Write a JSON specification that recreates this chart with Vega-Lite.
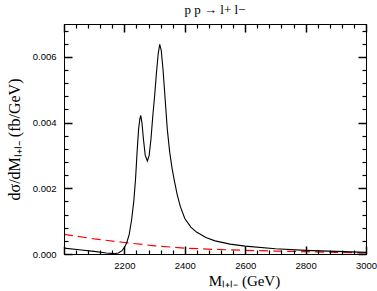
{
  "$schema": "https://vega.github.io/schema/vega-lite/v6.json",
  "width": 302,
  "height": 230,
  "autosize": {"type": "none"},
  "padding": {"left": 64, "top": 24, "right": 11, "bottom": 37},
  "config": {
    "view": {"stroke": "black", "strokeWidth": 1},
    "axis": {"labelColor": "black", "labelFont": "Liberation Sans", "labelFontSize": 9.5, "titleFont": "Liberation Serif", "titleFontWeight": "normal", "titleFontSize": 15, "titleColor": "black", "domainColor": "black", "gridOpacity": 0}
  },
  "title": {"text": "p p → l+ l−", "font": "Liberation Serif", "fontSize": 13, "fontWeight": "normal", "color": "black", "offset": 6},
  "datasets": {
    "total": [
      {"m": 2000, "v": 0.00018}, {"m": 2050, "v": 0.00013}, {"m": 2100, "v": 0.00008}, {"m": 2140, "v": 0.00003},
      {"m": 2165, "v": 0.00001}, {"m": 2180, "v": 0.00003}, {"m": 2192, "v": 0.0001}, {"m": 2200, "v": 0.0002},
      {"m": 2208, "v": 0.00035}, {"m": 2216, "v": 0.0006}, {"m": 2224, "v": 0.00105}, {"m": 2231, "v": 0.0016},
      {"m": 2237, "v": 0.0023}, {"m": 2242, "v": 0.0031}, {"m": 2247, "v": 0.0038}, {"m": 2251, "v": 0.0041},
      {"m": 2254, "v": 0.00422}, {"m": 2258, "v": 0.0040}, {"m": 2263, "v": 0.0035}, {"m": 2269, "v": 0.0030},
      {"m": 2276, "v": 0.00283}, {"m": 2282, "v": 0.0030}, {"m": 2288, "v": 0.0035}, {"m": 2294, "v": 0.0042},
      {"m": 2300, "v": 0.0048}, {"m": 2306, "v": 0.0055}, {"m": 2312, "v": 0.0061}, {"m": 2317, "v": 0.00638},
      {"m": 2322, "v": 0.0062}, {"m": 2328, "v": 0.0056}, {"m": 2335, "v": 0.0047}, {"m": 2342, "v": 0.0038},
      {"m": 2350, "v": 0.0031}, {"m": 2358, "v": 0.0026}, {"m": 2366, "v": 0.0022}, {"m": 2375, "v": 0.0018},
      {"m": 2385, "v": 0.00145}, {"m": 2400, "v": 0.00108}, {"m": 2420, "v": 0.00082}, {"m": 2440, "v": 0.00066},
      {"m": 2470, "v": 0.0005}, {"m": 2500, "v": 0.0004}, {"m": 2550, "v": 0.0003}, {"m": 2600, "v": 0.00024},
      {"m": 2700, "v": 0.00016}, {"m": 2800, "v": 0.00011}, {"m": 2900, "v": 0.00008}, {"m": 3000, "v": 0.00005}
    ],
    "bg": [
      {"m": 2000, "v": 0.0006}, {"m": 2100, "v": 0.00046}, {"m": 2200, "v": 0.00035}, {"m": 2300, "v": 0.00025},
      {"m": 2400, "v": 0.00018}, {"m": 2500, "v": 0.00014}, {"m": 2600, "v": 0.00011}, {"m": 2700, "v": 0.00009},
      {"m": 2800, "v": 0.00007}, {"m": 2900, "v": 0.00005}, {"m": 3000, "v": 0.00003}
    ]
  },
  "resolve": {"scale": {"x": "shared", "y": "shared"}, "axis": {"x": "independent", "y": "independent"}},
  "layer": [
    {
      "data": {"name": "bg"},
      "mark": {"type": "line", "color": "#ff0000", "strokeWidth": 1.2, "strokeDash": [9, 5]},
      "encoding": {
        "x": {"field": "m", "type": "quantitative", "scale": {"domain": [2000, 3000], "nice": false, "zero": false},
          "axis": {"orient": "bottom", "title": "Mₗ₊ₗ₋  (GeV)", "titlePadding": 4, "titleX": 180, "titleAlign": "center",
            "tickCount": 5, "labelExpr": "datum.value > 2000 ? datum.value : ''", "format": "d",
            "ticks": true, "tickColor": "black", "tickOpacity": 1, "tickSize": -8, "tickWidth": 1.5, "labelPadding": 14, "labelFlush": false, "zindex": 2}},
        "y": {"field": "v", "type": "quantitative", "scale": {"domain": [0, 0.007], "nice": false},
          "axis": {"orient": "left", "title": "dσ/dMₗ₊ₗ₋  (fb/GeV)", "titlePadding": 10, "titleFontSize": 16,
            "tickCount": 4, "format": ".3f",
            "ticks": true, "tickColor": "black", "tickOpacity": 1, "tickSize": -8, "tickWidth": 1.5, "labelPadding": 16, "zindex": 2}}
      }
    },
    {
      "data": {"name": "total"},
      "mark": {"type": "line", "color": "black", "strokeWidth": 1.1},
      "encoding": {
        "x": {"field": "m", "type": "quantitative",
          "axis": {"orient": "top", "title": null, "labels": false, "tickCount": 5, "ticks": true, "tickColor": "black", "tickOpacity": 1, "tickSize": -8, "tickWidth": 1.5, "zindex": 2}},
        "y": {"field": "v", "type": "quantitative",
          "axis": {"orient": "right", "title": null, "labels": false, "tickCount": 4, "ticks": true, "tickColor": "black", "tickOpacity": 1, "tickSize": -8, "tickWidth": 1.5, "zindex": 2}}
      }
    },
    {
      "data": {"name": "bg"},
      "mark": {"type": "line", "opacity": 0},
      "encoding": {
        "x": {"field": "m", "type": "quantitative",
          "axis": {"orient": "bottom", "title": null, "labels": false, "ticks": true, "tickColor": "black", "tickOpacity": 1, "tickWidth": 1.2, "tickSize": -4, "zindex": 2,
            "values": [2040,2080,2120,2160,2240,2280,2320,2360,2440,2480,2520,2560,2640,2680,2720,2760,2840,2880,2920,2960]}},
        "y": {"field": "v", "type": "quantitative",
          "axis": {"orient": "left", "title": null, "labels": false, "ticks": true, "tickColor": "black", "tickOpacity": 1, "tickWidth": 1.2, "tickSize": -4, "zindex": 2,
            "values": [0.0004,0.0008,0.0012,0.0016,0.0024,0.0028,0.0032,0.0036,0.0044,0.0048,0.0052,0.0056,0.0064,0.0068]}}
      }
    },
    {
      "data": {"name": "bg"},
      "mark": {"type": "line", "opacity": 0},
      "encoding": {
        "x": {"field": "m", "type": "quantitative",
          "axis": {"orient": "top", "title": null, "labels": false, "ticks": true, "tickColor": "black", "tickOpacity": 1, "tickWidth": 1.2, "tickSize": -4, "zindex": 2,
            "values": [2040,2080,2120,2160,2240,2280,2320,2360,2440,2480,2520,2560,2640,2680,2720,2760,2840,2880,2920,2960]}},
        "y": {"field": "v", "type": "quantitative",
          "axis": {"orient": "right", "title": null, "labels": false, "ticks": true, "tickColor": "black", "tickOpacity": 1, "tickWidth": 1.2, "tickSize": -4, "zindex": 2,
            "values": [0.0004,0.0008,0.0012,0.0016,0.0024,0.0028,0.0032,0.0036,0.0044,0.0048,0.0052,0.0056,0.0064,0.0068]}}
      }
    }
  ]
}
